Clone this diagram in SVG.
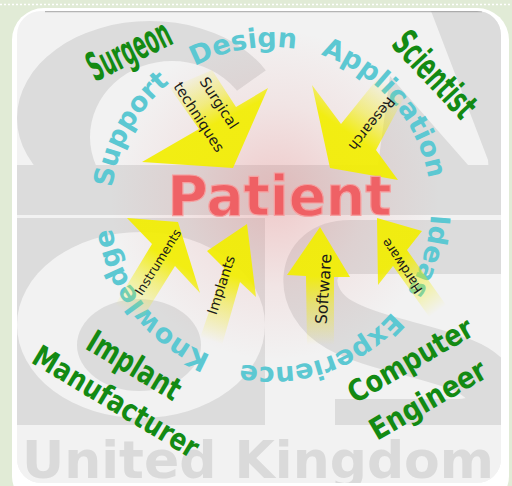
<svg xmlns="http://www.w3.org/2000/svg" width="512" height="486" viewBox="0 0 512 486">
<defs>
<clipPath id="panel"><rect x="17" y="11" width="484" height="472" rx="24"/></clipPath>
<clipPath id="cClip"><polygon points="0,0 365,0 172,137 300,300 0,300"/></clipPath>
<radialGradient id="pink" cx="275" cy="195" r="165" gradientUnits="userSpaceOnUse">
<stop offset="0" stop-color="#e86a6a" stop-opacity="0.3"/>
<stop offset="0.55" stop-color="#e86a6a" stop-opacity="0.1"/>
<stop offset="1" stop-color="#e86a6a" stop-opacity="0"/>
</radialGradient>
<linearGradient id="g1" gradientUnits="userSpaceOnUse" x1="189" y1="74" x2="214" y2="124"><stop offset="0" stop-color="#f2ee00" stop-opacity="0"/><stop offset="0.6" stop-color="#f2ee00" stop-opacity="0.45"/><stop offset="1" stop-color="#f2ee00" stop-opacity="0.92"/></linearGradient>
<linearGradient id="g2" gradientUnits="userSpaceOnUse" x1="392" y1="86" x2="356" y2="138"><stop offset="0" stop-color="#f2ee00" stop-opacity="0"/><stop offset="0.6" stop-color="#f2ee00" stop-opacity="0.45"/><stop offset="1" stop-color="#f2ee00" stop-opacity="0.92"/></linearGradient>
<linearGradient id="g3" gradientUnits="userSpaceOnUse" x1="128" y1="313" x2="163" y2="255"><stop offset="0" stop-color="#f2ee00" stop-opacity="0"/><stop offset="0.6" stop-color="#f2ee00" stop-opacity="0.45"/><stop offset="1" stop-color="#f2ee00" stop-opacity="0.92"/></linearGradient>
<linearGradient id="g4" gradientUnits="userSpaceOnUse" x1="211" y1="341" x2="232" y2="275"><stop offset="0" stop-color="#f2ee00" stop-opacity="0"/><stop offset="0.6" stop-color="#f2ee00" stop-opacity="0.45"/><stop offset="1" stop-color="#f2ee00" stop-opacity="0.92"/></linearGradient>
<linearGradient id="g5" gradientUnits="userSpaceOnUse" x1="320" y1="345" x2="320" y2="276"><stop offset="0" stop-color="#f2ee00" stop-opacity="0"/><stop offset="0.6" stop-color="#f2ee00" stop-opacity="0.45"/><stop offset="1" stop-color="#f2ee00" stop-opacity="0.92"/></linearGradient>
<linearGradient id="g6" gradientUnits="userSpaceOnUse" x1="438" y1="311" x2="400" y2="258"><stop offset="0" stop-color="#f2ee00" stop-opacity="0"/><stop offset="0.6" stop-color="#f2ee00" stop-opacity="0.45"/><stop offset="1" stop-color="#f2ee00" stop-opacity="0.92"/></linearGradient>
<path id="ring" d="M111,207 A160,160 0 1,1 431,207 A160,160 0 1,1 111,207"/>
</defs>
<style>
.logo{fill:#dcdcdc}
.lite{fill:#f2f2f2}
.cyan{font-family:"DejaVu Sans",sans-serif;font-weight:bold;font-size:27px;fill:#5cc8d2}
.role{font-family:"DejaVu Sans",sans-serif;font-weight:bold;fill:#138a13}
.lbl{font-family:"DejaVu Sans",sans-serif;fill:#1a1a1a;text-anchor:middle}
</style>
<rect width="512" height="486" fill="#e1ebd6"/>
<line x1="0" y1="4.5" x2="512" y2="4.5" stroke="#ffffff" stroke-width="1.5" stroke-dasharray="2 2"/>
<rect x="12" y="8" width="497" height="500" rx="32" fill="#ffffff"/>
<g clip-path="url(#panel)">
<rect x="17" y="11" width="484" height="472" class="lite"/>
<path class="logo" fill-rule="evenodd" clip-path="url(#cClip)" d="M17,118 A133,97 0 1,0 283,118 A133,97 0 1,0 17,118 Z M90,137 A82,76 0 1,0 254,137 A82,76 0 1,0 90,137 Z"/>
<polygon class="logo" points="431,11 506,11 506,215 492,215 488,160"/>
<polygon class="logo" points="390,76 468,165 378,165"/>
<rect x="17" y="165" width="484" height="50" class="logo"/>
<rect x="17" y="218" width="248" height="207" class="logo"/>
<ellipse cx="141" cy="325" rx="124" ry="93" class="lite"/>
<ellipse cx="139" cy="345" rx="62" ry="46" class="logo"/>
<path d="M505,247 L350,247 C300,247 298,302 340,325 C372,343 425,350 462,365 C505,382 508,422 460,426 L335,426" fill="none" stroke="#dcdcdc" stroke-width="54"/>
<rect x="17" y="425" width="484" height="60" class="lite"/>
<text x="22" y="478" font-family="DejaVu Sans, sans-serif" font-weight="bold" font-size="52" fill="#dadada">United Kingdom</text>
<rect x="17" y="11" width="484" height="472" fill="url(#pink)"/>
<line x1="45" y1="11.6" x2="482" y2="11.6" stroke="#8a8a8a" stroke-width="1.2" opacity="0.6"/>
</g>
<g id="themes">
<text class="cyan"><textPath href="#ring" startOffset="19.5">Support</textPath></text>
<text class="cyan"><textPath href="#ring" startOffset="171.7">Design</textPath></text>
<text class="cyan"><textPath href="#ring" startOffset="301.6">Application</textPath></text>
<text class="cyan"><textPath href="#ring" startOffset="509.9">Ideas</textPath></text>
<text class="cyan"><textPath href="#ring" startOffset="616.3">Experience</textPath></text>
<text class="cyan"><textPath href="#ring" startOffset="815.4">Knowledge</textPath></text>
</g>
<g id="connectors">
<g id="arrow-surgical">
<polygon fill="url(#g1)" points="170,88 212,70 236,107 268,88 233,168 142,162 199,129"/>
<text class="lbl" font-size="14.5" transform="translate(219,103) rotate(57)" y="5">Surgical</text>
<text class="lbl" font-size="14.5" transform="translate(199,117) rotate(57)" y="5">techniques</text>
</g>
<g id="arrow-research">
<polygon fill="url(#g2)" points="378,78 406,94 376,150 398,180 330,168 312,85 341,124"/>
<text class="lbl" font-size="14" transform="translate(372,124) rotate(129)" y="5">Research</text>
</g>
<g id="arrow-instruments">
<polygon fill="url(#g3)" points="115,305 140,322 175,266 200,293 178,222 127,218 152,244"/>
<text class="lbl" font-size="12.5" transform="translate(158,262) rotate(-58)" y="4.5">Instruments</text>
</g>
<g id="arrow-implants">
<polygon fill="url(#g4)" points="200,338 222,345 240,282 256,297 247,224 207,251 224,268"/>
<text class="lbl" font-size="14" transform="translate(221,285) rotate(-72)" y="5">Implants</text>
</g>
<g id="arrow-software">
<polygon fill="url(#g5)" points="307,345 334,345 334,277 350,277 320,227 287,275 306,276"/>
<text class="lbl" font-size="16" transform="translate(323,289) rotate(-86)" y="6">Software</text>
</g>
<g id="arrow-hardware">
<polygon fill="url(#g6)" points="377,218 422,231 407,250 446,305 430,318 393,266 378,285"/>
<text class="lbl" font-size="13" transform="translate(402,266) rotate(-123.5)" y="4.5">Hardware</text>
</g>
</g>
<g id="surgeon"><text class="role" font-size="40" transform="translate(95,82) rotate(-26) scale(0.47,1)">Surgeon</text></g>
<g id="scientist"><text class="role" font-size="37" transform="translate(390,45) rotate(47) scale(0.57,1)">Scientist</text></g>
<g id="implant-manufacturer">
<text class="role" font-size="32" transform="translate(84,348) rotate(31) scale(0.75,1)">Implant</text>
<text class="role" font-size="30" transform="translate(30,362) rotate(31) scale(0.82,1)">Manufacturer</text>
</g>
<g id="computer-engineer">
<text class="role" font-size="30" transform="translate(355,404) rotate(-30) scale(0.84,1)">Computer</text>
<text class="role" font-size="30" transform="translate(377,441) rotate(-30) scale(0.86,1)">Engineer</text>
</g>
<g id="patient"><text x="279.5" y="215" text-anchor="middle" font-family="DejaVu Sans, sans-serif" font-weight="bold" font-size="55" fill="#f0585c" stroke="#f5a0a0" stroke-width="1.2" fill-opacity="0.92">Patient</text></g>
</svg>
